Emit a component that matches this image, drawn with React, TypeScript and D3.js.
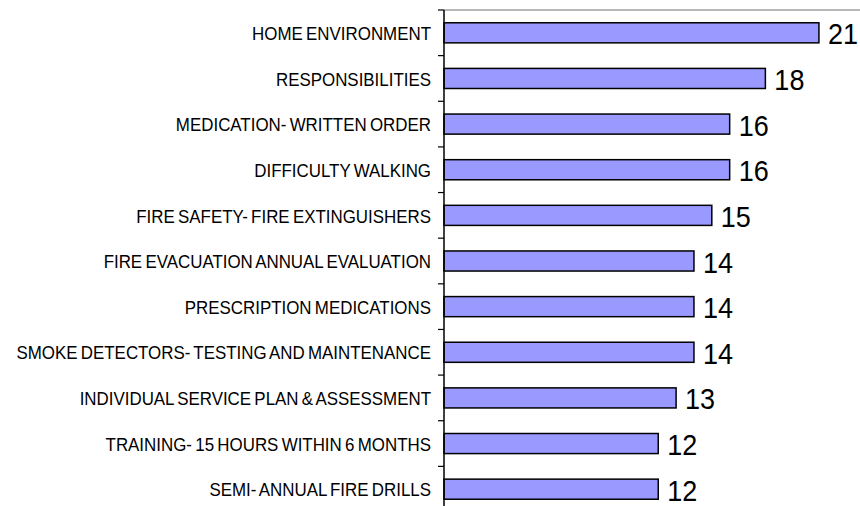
import React from "react";
import * as d3 from "d3";

const categories = [
  "HOME ENVIRONMENT",
  "RESPONSIBILITIES",
  "MEDICATION- WRITTEN ORDER",
  "DIFFICULTY WALKING",
  "FIRE SAFETY- FIRE EXTINGUISHERS",
  "FIRE EVACUATION ANNUAL EVALUATION",
  "PRESCRIPTION MEDICATIONS",
  "SMOKE DETECTORS- TESTING AND MAINTENANCE",
  "INDIVIDUAL SERVICE PLAN & ASSESSMENT",
  "TRAINING- 15 HOURS WITHIN 6 MONTHS",
  "SEMI- ANNUAL FIRE DRILLS",
];
const values = [21, 18, 16, 16, 15, 14, 14, 14, 13, 12, 12];

const W = 860;
const H = 506;
const left = 444;
const top = 10;

export default function App() {
  const x = d3.scaleLinear().domain([0, 23.3]).range([left, W]);
  const y = d3
    .scaleBand<string>()
    .domain(categories)
    .range([top, 512])
    .paddingInner(0.56)
    .paddingOuter(0.28);
  const step = y.step();
  const ticks = d3.range(categories.length + 1).map((i) => top + i * step);
  const labelScale = 0.94;

  return (
    <svg
      width={W}
      height={H}
      style={{ position: "absolute", left: 0, top: 0, background: "#fff" }}
      fontFamily="Arial, 'Liberation Sans', sans-serif"
    >
      <line x1={left} x2={W} y1={top} y2={top} stroke="#a0a0a0" strokeWidth={1.5} />
      {categories.map((c, i) => {
        const yc = (y(c) as number) + y.bandwidth() / 2;
        return (
          <g key={c}>
            <rect
              x={x(0)}
              y={y(c)}
              width={x(values[i]) - x(0)}
              height={y.bandwidth()}
              fill="#9999FF"
              stroke="#000"
              strokeWidth={1.5}
            />
            <text
              transform={`translate(${left - 13},${yc + 1}) scale(${labelScale},1)`}
              textAnchor="end"
              dominantBaseline="central"
              fontSize={18}
              wordSpacing={-1.5}
              fill="#000"
            >
              {c}
            </text>
            <text
              transform={`translate(${x(values[i]) + 9},${yc + 1}) scale(0.9,1)`}
              dominantBaseline="central"
              fontSize={30}
              fill="#000"
            >
              {values[i]}
            </text>
          </g>
        );
      })}
      <line x1={left} x2={left} y1={top} y2={H} stroke="#000" strokeWidth={1.5} />
      {ticks.map((t, i) => (
        <line key={i} x1={left - 6} x2={left} y1={t} y2={t} stroke="#000" strokeWidth={1.2} />
      ))}
    </svg>
  );
}
